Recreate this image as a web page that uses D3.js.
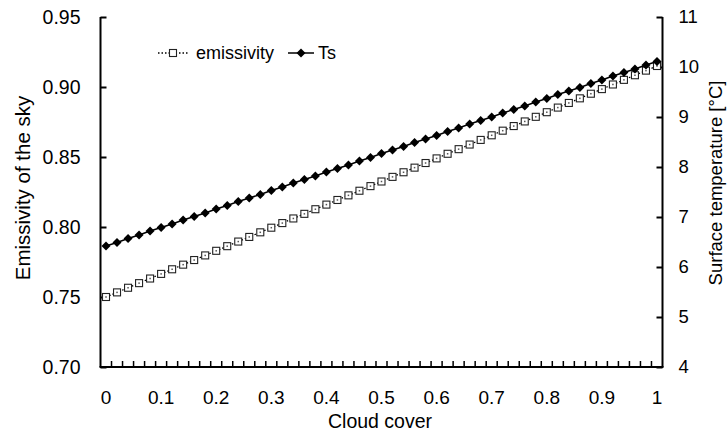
<!DOCTYPE html>
<html>
<head>
<meta charset="utf-8">
<script src="https://cdn.jsdelivr.net/npm/d3@7"></script>
<style>
  html, body { margin: 0; padding: 0; background: #fff; }
  svg { display: block; }
  text { font-family: "Liberation Sans", Arial, sans-serif; fill: #000; }
</style>
</head>
<body>
<svg id="chart" width="727" height="434"></svg>
<script>
// ---- Data ----
const cloudCover = ["0","0.02","0.04","0.06","0.08","0.1","0.12","0.14","0.16","0.18",
  "0.2","0.22","0.24","0.26","0.28","0.3","0.32","0.34","0.36","0.38",
  "0.4","0.42","0.44","0.46","0.48","0.5","0.52","0.54","0.56","0.58",
  "0.6","0.62","0.64","0.66","0.68","0.7","0.72","0.74","0.76","0.78",
  "0.8","0.82","0.84","0.86","0.88","0.9","0.92","0.94","0.96","0.98","1"];
const emissivity = [0.7500,0.7533,0.7566,0.7599,0.7632,0.7665,0.7698,0.7731,0.7764,0.7797,
  0.7830,0.7863,0.7896,0.7929,0.7962,0.7995,0.8028,0.8061,0.8094,0.8127,
  0.8160,0.8193,0.8226,0.8259,0.8292,0.8325,0.8358,0.8391,0.8424,0.8457,
  0.8490,0.8523,0.8556,0.8589,0.8622,0.8655,0.8688,0.8721,0.8754,0.8787,
  0.8820,0.8853,0.8886,0.8919,0.8952,0.8985,0.9018,0.9051,0.9084,0.9117,0.9150];
const surfaceTemp = [6.42,6.49,6.57,6.64,6.72,6.79,6.86,6.94,7.01,7.08,
  7.16,7.23,7.31,7.38,7.45,7.53,7.60,7.68,7.75,7.82,
  7.90,7.97,8.04,8.12,8.19,8.27,8.34,8.41,8.49,8.56,
  8.63,8.71,8.78,8.86,8.93,9.00,9.08,9.15,9.22,9.30,
  9.37,9.45,9.52,9.59,9.67,9.74,9.82,9.89,9.96,10.04,10.11];
const xTickLabels = ["0","0.1","0.2","0.3","0.4","0.5","0.6","0.7","0.8","0.9","1"];
const leftTicks = [0.70,0.75,0.80,0.85,0.90,0.95];
const rightTicks = [4,5,6,7,8,9,10,11];
const seriesNames = ["emissivity","Ts"];

// ---- Layout ----
const svg = d3.select("#chart");
const L = 100.5, R = 662.5, T = 17, B = 367;

const x = d3.scaleBand().domain(cloudCover).range([L, R]).padding(0);
const xc = d => x(d) + x.bandwidth() / 2;
const yL = d3.scaleLinear().domain([0.70, 0.95]).range([B, T]);
const yR = d3.scaleLinear().domain([4, 11]).range([B, T]);

// Axes
const gl = svg.append("g").attr("transform", `translate(${L},0)`)
  .call(d3.axisLeft(yL).tickValues(leftTicks).tickFormat(d3.format(".2f")).tickSize(-6).tickPadding(20));
const gr = svg.append("g").attr("transform", `translate(${R},0)`)
  .call(d3.axisRight(yR).tickValues(rightTicks).tickFormat(d3.format("d")).tickSize(-6).tickPadding(16));
[[gl, 19.5], [gr, 18.5]].forEach(([g, f]) => {
  g.select(".domain").attr("d", `M0,${T}V${B}`);
  g.selectAll("line, path").attr("stroke", "#000").attr("stroke-width", 2);
  g.selectAll("text").style("font-size", f + "px").attr("font-family", "Liberation Sans, Arial, sans-serif");
});

// x axis: ticks at category boundaries, labels every 5th category
const boundaries = d3.range(1, cloudCover.length).map(i => L + i * x.step());
const gx = svg.append("g");
gx.append("line").attr("x1", L - 1).attr("x2", R + 1).attr("y1", B).attr("y2", B)
  .attr("stroke", "#000").attr("stroke-width", 2);
gx.selectAll("line.tk").data(boundaries).join("line").attr("class", "tk")
  .attr("x1", d => d).attr("x2", d => d).attr("y1", B).attr("y2", B - 6)
  .attr("stroke", "#000").attr("stroke-width", 1.5);
gx.selectAll("text").data(cloudCover.filter((d, i) => i % 5 === 0)).join("text")
  .attr("x", d => xc(d)).attr("y", 404).attr("text-anchor", "middle")
  .style("font-size", "19px").text((d, i) => xTickLabels[i]);

// Axis titles
svg.append("text").attr("x", 380).attr("y", 428)
  .attr("text-anchor", "middle").style("font-size", "19.5px").text("Cloud cover");
svg.append("text").attr("transform", "translate(30,188) rotate(-90)")
  .attr("text-anchor", "middle").style("font-size", "20.5px").text("Emissivity of the sky");
svg.append("text").attr("transform", "translate(722,183) rotate(-90)")
  .attr("text-anchor", "middle").style("font-size", "18.5px").text("Surface temperature [°C]");

// Series: emissivity (dotted line + open squares)
const lineE = d3.line().x((d, i) => xc(cloudCover[i])).y(d => yL(d));
svg.append("path").datum(emissivity).attr("d", lineE).attr("fill", "none")
  .attr("stroke", "#000").attr("stroke-width", 1.3).attr("stroke-dasharray", "1.5,2");
svg.append("g").selectAll("rect").data(emissivity).join("rect")
  .attr("x", (d, i) => xc(cloudCover[i]) - 3.5).attr("y", d => yL(d) - 3.5)
  .attr("width", 7).attr("height", 7).attr("fill", "#fff").attr("stroke", "#222").attr("stroke-width", 1.1);
svg.append("g").selectAll("rect").data(emissivity).join("rect")
  .attr("x", (d, i) => xc(cloudCover[i]) - 0.75).attr("y", d => yL(d) - 0.75)
  .attr("width", 1.5).attr("height", 1.5).attr("fill", "#555");

// Series: Ts (solid line + black diamonds)
const lineT = d3.line().x((d, i) => xc(cloudCover[i])).y(d => yR(d));
svg.append("path").datum(surfaceTemp).attr("d", lineT).attr("fill", "none")
  .attr("stroke", "#000").attr("stroke-width", 1.5);
const diamond = "M0,-4.5L4.5,0L0,4.5L-4.5,0Z";
svg.append("g").selectAll("path").data(surfaceTemp).join("path")
  .attr("transform", (d, i) => `translate(${xc(cloudCover[i])},${yR(d)})`)
  .attr("d", diamond).attr("fill", "#000");

// Legend
const lg = svg.append("g");
const ly = 53;
lg.append("line").attr("x1", 158).attr("x2", 188).attr("y1", ly).attr("y2", ly)
  .attr("stroke", "#000").attr("stroke-width", 1.3).attr("stroke-dasharray", "1.5,2");
lg.append("rect").attr("x", 173 - 3.5).attr("y", ly - 3.5).attr("width", 7).attr("height", 7)
  .attr("fill", "#fff").attr("stroke", "#222").attr("stroke-width", 1.1);
lg.append("text").attr("x", 196).attr("y", ly + 6).style("font-size", "18px").text(seriesNames[0]);
lg.append("line").attr("x1", 288).attr("x2", 314).attr("y1", ly).attr("y2", ly)
  .attr("stroke", "#000").attr("stroke-width", 1.5);
lg.append("path").attr("transform", `translate(301,${ly})`).attr("d", diamond).attr("fill", "#000");
lg.append("text").attr("x", 318).attr("y", ly + 6).style("font-size", "18px").text(seriesNames[1]);
</script>
</body>
</html>
